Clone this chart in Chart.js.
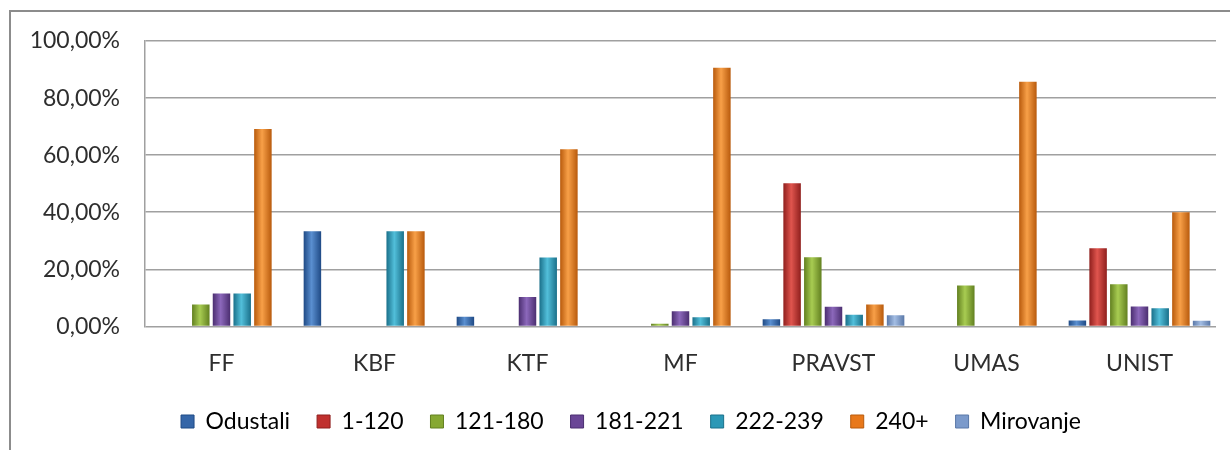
<!DOCTYPE html>
<html>
<head>
<meta charset="utf-8">
<script src="https://cdn.jsdelivr.net/npm/chart.js@4"></script>
<style>
  html, body { margin: 0; padding: 0; background: #fff; overflow: hidden; }
  #frame {
    position: absolute;
    left: 9px;
    top: 10px;
    width: 1260px;
    height: 440px;
    border-left: 2px solid #8c8c8c;
    border-top: 2px solid #8c8c8c;
  }
  canvas { display: block; }
</style>
</head>
<body>
<div id="frame">
  <canvas id="chart" width="1240" height="438"></canvas>
</div>
<script>
// 학과별 분포 (퍼센트)
const faculties = ["FF", "KBF", "KTF", "MF", "PRAVST", "UMAS", "UNIST"];
const groups = ["Odustali", "1-120", "121-180", "181-221", "222-239", "240+", "Mirovanje"];

const odustali = [0, 33.3, 3.4, 0, 2.5, 0, 2.1];
const do120 = [0, 0, 0, 0, 50.2, 0, 27.4];
const do180 = [7.7, 0, 0, 0.9, 24.2, 14.3, 14.8];
const do221 = [11.5, 0, 10.3, 5.3, 6.9, 0, 7.0];
const do239 = [11.5, 33.3, 24.1, 3.2, 4.1, 0, 6.4];
const preko240 = [69.2, 33.3, 62.1, 90.6, 7.7, 85.7, 40.0];
const mirovanje = [0, 0, 0, 0, 3.9, 0, 2.0];

const yTicks = [0, 20, 40, 60, 80, 100];

// 기본색 / 밝은색 / 어두운색
const palette = [
  ["#3566a8", "#5a8fd0", "#1f4a85"],
  ["#c0302e", "#e0554e", "#8f1f1d"],
  ["#86a832", "#a8cc52", "#628020"],
  ["#6a4696", "#8c68bb", "#4b2e70"],
  ["#2b98b6", "#52bfda", "#1a708a"],
  ["#e8781a", "#f8a048", "#b85a0c"],
  ["#7b9acb", "#a3bde3", "#5a78a8"],
];

const CAT_PCT = 0.947;
const BAR_PCT = 0.845;

// 원기둥 느낌의 가로 그라디언트
function cylinderFill(dsIndex) {
  return (ctx) => {
    const [base, light, dark] = palette[dsIndex];
    if (ctx.type !== "data") return base;
    const chart = ctx.chart;
    const xs = chart.scales.x;
    if (!xs || !chart.chartArea) return base;
    const catW = xs.width / faculties.length;
    const step = (catW * CAT_PCT) / groups.length;
    const cx = xs.getPixelForValue(ctx.dataIndex) + (dsIndex - (groups.length - 1) / 2) * step;
    const w = step * BAR_PCT;
    const g = chart.ctx.createLinearGradient(cx - w / 2, 0, cx + w / 2, 0);
    g.addColorStop(0, dark);
    g.addColorStop(0.45, light);
    g.addColorStop(1, dark);
    return g;
  };
}

// 축 라벨 여백이 레이아웃을 밀지 않도록
function noOverhang(scale) {
  scale.paddingTop = 0;
  scale.paddingBottom = 0;
  scale.paddingLeft = 0;
  scale.paddingRight = 0;
}

const series = [odustali, do120, do180, do221, do239, preko240, mirovanje];

const datasets = series.map((values, i) => ({
  label: groups[i],
  data: values,
  backgroundColor: cylinderFill(i),
  borderWidth: 0,
  categoryPercentage: CAT_PCT,
  barPercentage: BAR_PCT,
}));

const fontFamily = "Lato, 'Open Sans', sans-serif";
const textColor = "#2e2e2e";

const ctx = document.getElementById("chart").getContext("2d");
new Chart(ctx, {
  type: "bar",
  data: {
    labels: faculties,
    datasets: datasets,
  },
  options: {
    responsive: false,
    animation: false,
    layout: {
      padding: { left: 17, right: 17, top: 29, bottom: 7 },
    },
    plugins: {
      legend: {
        position: "bottom",
        labels: {
          boxWidth: 13,
          boxHeight: 13,
          padding: 27,
          color: textColor,
          font: { family: fontFamily, size: 23 },
          generateLabels: (chart) =>
            groups.map((name, i) => ({
              text: name,
              fillStyle: palette[i][0],
              strokeStyle: palette[i][2],
              lineWidth: 1,
              datasetIndex: i,
              hidden: false,
            })),
        },
      },
      tooltip: { enabled: false },
    },
    scales: {
      x: {
        grid: { display: false },
        border: { display: false },
        ticks: {
          color: textColor,
          padding: 15,
          font: { family: fontFamily, size: 23 },
        },
        afterFit: (scale) => {
          scale.height -= 9;
          noOverhang(scale);
        },
      },
      y: {
        min: 0,
        max: 100,
        afterBuildTicks: (axis) => {
          axis.ticks = yTicks.map((v) => ({ value: v }));
        },
        afterFit: (scale) => {
          scale.width = 117;
          noOverhang(scale);
        },
        grid: {
          color: "#a0a0a0",
          lineWidth: 1.5,
          drawTicks: false,
        },
        border: { display: true, color: "#a0a0a0", width: 1.5 },
        ticks: {
          color: textColor,
          padding: 25,
          font: { family: fontFamily, size: 23 },
          callback: (value) => value.toFixed(2).replace(".", ",") + "%",
        },
      },
      // 범례를 가운데로 맞추기 위한 빈 오른쪽 여백
      spacer: {
        type: "linear",
        position: "right",
        grid: { display: false },
        border: { display: false },
        ticks: { display: false },
        afterFit: (scale) => {
          scale.width = 18;
          noOverhang(scale);
        },
      },
    },
  },
});
</script>
</body>
</html>
